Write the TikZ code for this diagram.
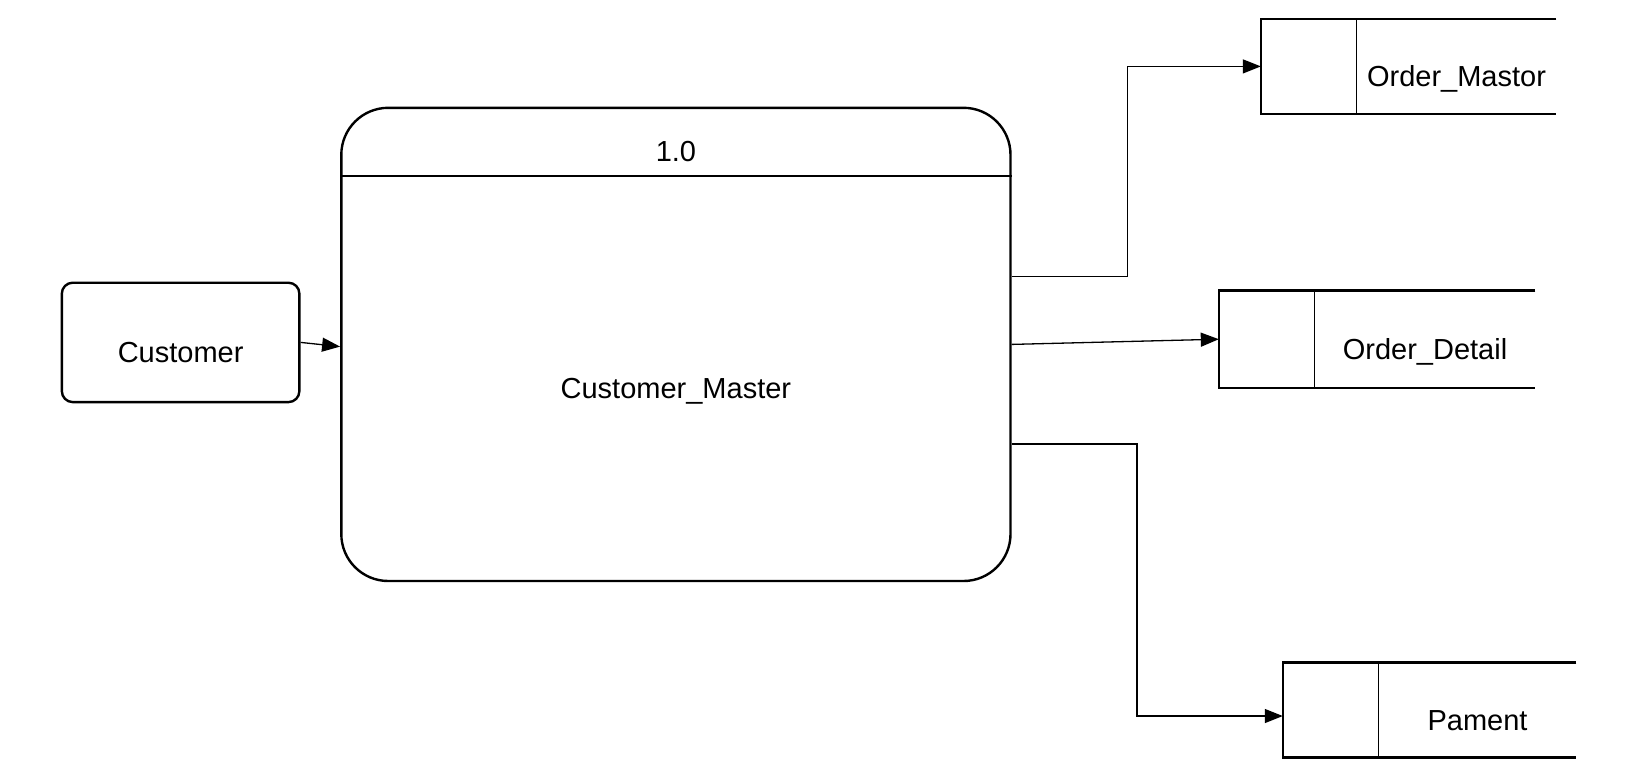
\documentclass[tikz,border=0pt]{standalone}
\usepackage{fontspec}
\setmainfont{Liberation Sans}
\usetikzlibrary{positioning,arrows.meta}

\begin{document}
\begin{tikzpicture}[x=0.5pt,y=-0.5pt,font=\fontsize{14.5pt}{17pt}\selectfont]
	\tikzset{txt/.style={text height=2.0em, text depth=0pt, inner sep=0pt}}
	\tikzset{entity/.style={draw, line width=1.2pt, rounded corners=5.5pt, minimum width=118.8pt, minimum height=59.7pt, txt}}
	\tikzset{process/.style={draw, line width=1.2pt, rounded corners=23.5pt, minimum width=334.6pt, minimum height=236.6pt}}
	\tikzset{store/.style={minimum height=47.1pt, txt}}
	\tikzset{storekey/.style={minimum width=47.5pt, minimum height=47.1pt, inner sep=0pt}}
	\tikzset{storeline/.style={line width=1.2pt}}
	\tikzset{flow/.style={line width=0.65pt, -{Triangle[length=9pt,width=7pt]}}}
	\useasboundingbox (0,0) rectangle (1642,772);

	% external entity and process
	\node[entity] (cust) at (180.6,342.4) {Customer};
	\node[process] (proc) at (675.9,344.4) {};
	\draw[line width=0.7pt] (proc.west |- 0,175.9) -- (proc.east |- 0,175.9);
	\node[txt] (pnum) at (675.9,141.8) {1.0};
	\node[txt] (pname) at (675.9,378.5) {Customer\_Master};

	% data stores
	\node[store, minimum width=99.5pt] (om) at (1456.5,66.4) {Order\_Mastor};
	\node[storekey, left=0pt of om] (kom) {};
	\draw[storeline] (om.north east) -- (kom.north west) -- (kom.south west) -- (om.south east);
	\draw[line width=0.6pt] (kom.north east) -- (kom.south east);

	\node[store, minimum width=110pt, minimum height=48.2pt] (od) at (1425,339.2) {Order\_Detail};
	\node[storekey, minimum height=48.2pt, left=0pt of od] (kod) {};
	\draw[storeline] (od.north east) -- (kod.north west) -- (kod.south west) -- (od.south east);
	\draw[line width=0.6pt] (kod.north east) -- (kod.south east);

	\node[store, minimum width=98.5pt] (pm) at (1477.5,710) {Pament};
	\node[storekey, left=0pt of pm] (kpm) {};
	\draw[storeline] (pm.north east) -- (kpm.north west) -- (kpm.south west) -- (pm.south east);
	\draw[line width=0.6pt] (kpm.north east) -- (kpm.south east);

	% flows
	\draw[flow] (cust.east) -- (proc.west |- 0,346.6);
	\draw[flow] (proc.east |- 0,276.4) -- (1127.6,276.4) |- (kom.west);
	\draw[flow] (proc.east) -- (kod.west);
	\draw[flow] (proc.east |- 0,444) -- (1137,444) |- ([yshift=-3pt]kpm.west);
\end{tikzpicture}
\end{document}
